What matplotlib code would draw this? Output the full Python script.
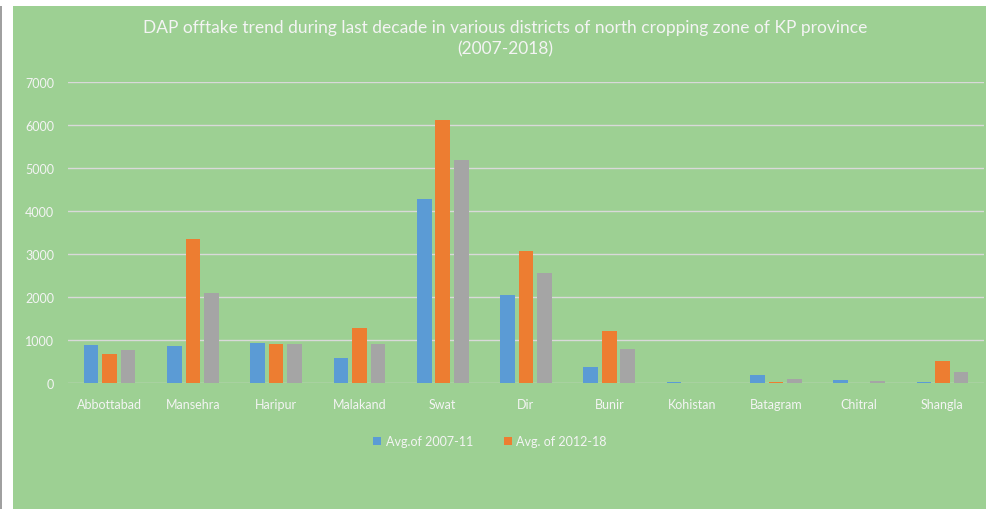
import numpy as np
import matplotlib.pyplot as plt
from matplotlib.patches import Rectangle

districts = ["Abbottabad", "Mansehra", "Haripur", "Malakand", "Swat", "Dir",
             "Bunir", "Kohistan", "Batagram", "Chitral", "Shangla"]
avg_2007_11 = [887, 865, 940, 583, 4277, 2053, 380, 30, 178, 77, 30]
avg_2012_18 = [684, 3344, 917, 1290, 6120, 3063, 1205, 10, 30, 0, 505]
overall_avg = [777, 2090, 917, 917, 5194, 2558, 800, 5, 100, 40, 264]
yticks = [0, 1000, 2000, 3000, 4000, 5000, 6000, 7000]

green = "#9dd093"
txt = "#f4f4f4"

fig = plt.figure(figsize=(9.86, 5.10), dpi=100)
fig.patch.set_facecolor("white")
# green chart area and the grey edge line on the left
fig.add_artist(Rectangle((13/986, 0), 1 - 13/986, 1 - 7/510,
                         transform=fig.transFigure, facecolor=green, edgecolor="none", zorder=0))
fig.add_artist(Rectangle((0, 0), 1.5/986, 1 - 7/510,
                         transform=fig.transFigure, facecolor="#a0a0a0", edgecolor="none", zorder=0))

ax = fig.add_axes([68/986, 1 - 384/510, (984 - 68)/986, (384 - 83)/510])
ax.set_facecolor("none")

x = np.arange(len(districts))
step = 0.222
w = 0.175
ax.bar(x - step, avg_2007_11, w, color="#5b9bd5", label="Avg.of 2007-11", zorder=3)
ax.bar(x, avg_2012_18, w, color="#ed7d31", label="Avg. of 2012-18", zorder=3)
ax.bar(x + step, overall_avg, w, color="#a5a5a5", zorder=3)

ax.set_xlim(-0.5, len(districts) - 0.5)
ax.set_ylim(0, 7000)
ax.set_yticks(yticks)
ax.set_xticks(x)
ax.set_xticklabels(districts)
ax.grid(axis="y", color="#d9d9d9", linewidth=1.0, zorder=0)
for s in ax.spines.values():
    s.set_visible(False)
ax.tick_params(length=0, colors=txt, labelsize=9, pad=10)
ax.tick_params(axis="x", pad=11)
for lab in ax.get_xticklabels() + ax.get_yticklabels():
    lab.set_family("Lato")

fig.text(505/986, 1 - 28/510, "DAP offtake trend during last decade in various districts of north cropping zone of KP province",
         ha="center", va="center", color=txt, fontsize=12.5, family="Lato")
fig.text(505/986, 1 - 49/510, "(2007-2018)",
         ha="center", va="center", color=txt, fontsize=12.5, family="Lato")

leg = fig.legend(loc="center", bbox_to_anchor=(490/986, 1 - 442/510), ncol=2, frameon=False,
                 handlelength=0.6, handleheight=0.6, handletextpad=0.4, columnspacing=2.5,
                 prop={"family": "Lato", "size": 9})
for t in leg.get_texts():
    t.set_color(txt)

fig.savefig("out.png", dpi=100, facecolor=fig.get_facecolor())
